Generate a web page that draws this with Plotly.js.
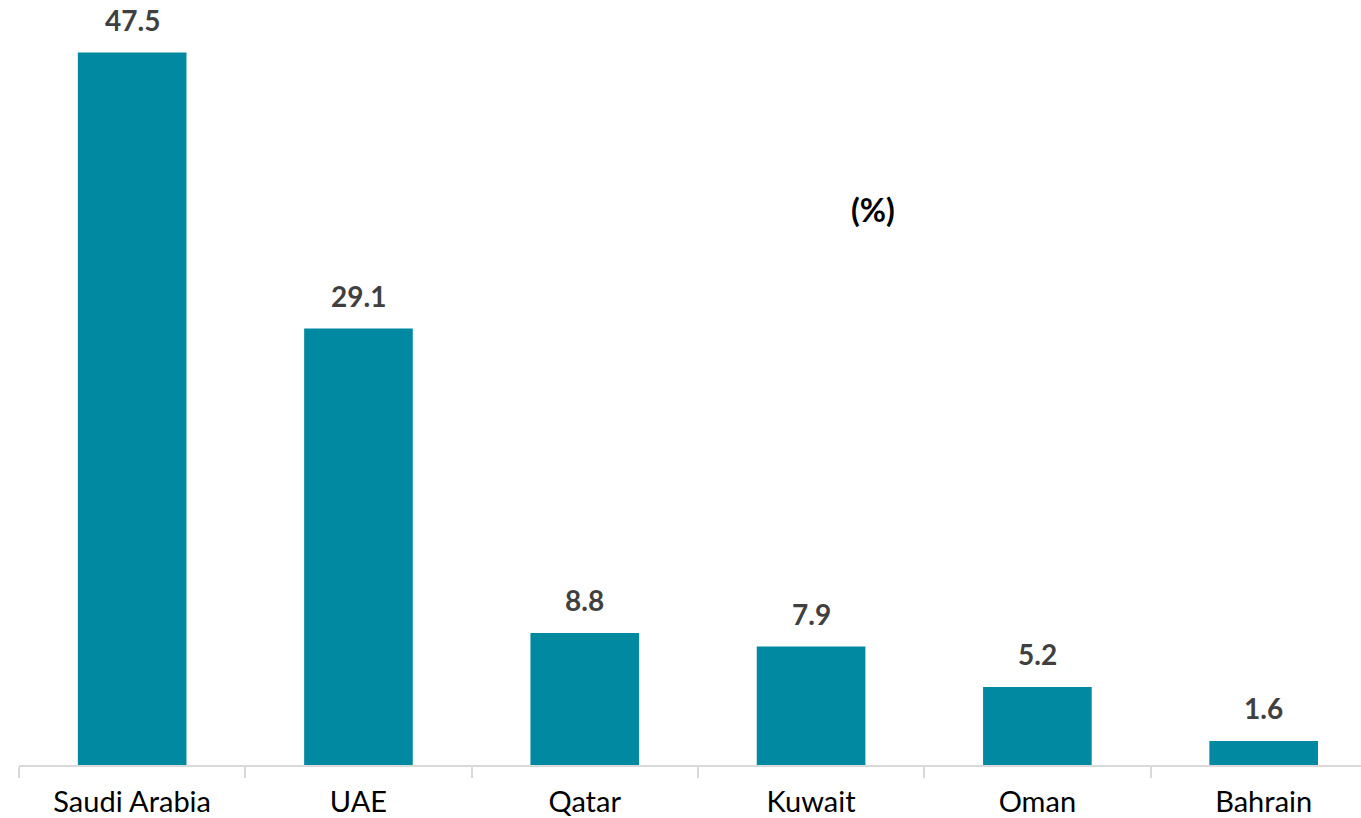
<!DOCTYPE html>
<html>
<head>
<meta charset="utf-8">
<script src="https://cdn.plot.ly/plotly-3.0.1.min.js"></script>
<style>html,body{margin:0;padding:0;background:#fff;}#chart{width:1361px;height:818px;}</style>
</head>
<body>
<div id="chart"></div>
<script>
const categories = ["Saudi Arabia", "UAE", "Qatar", "Kuwait", "Oman", "Bahrain"];
const values = [47.5, 29.1, 8.8, 7.9, 5.2, 1.6];
const unitLabel = "(%)";

const barColor = "#0189A2";
const fontFam = "Lato, 'Open Sans', sans-serif";

const trace = {
  type: "bar",
  x: categories,
  y: values,
  marker: {color: barColor},
  hoverinfo: "none"
};

const annotations = categories.map((c, i) => ({
  x: c, y: values[i], xref: "x", yref: "y",
  text: "<b>" + values[i].toFixed(1) + "</b>",
  showarrow: false, yanchor: "bottom", yshift: 14,
  font: {family: fontFam, size: 28, color: "#404040"}
}));
annotations.push({
  x: 0.636, y: 0.745, xref: "paper", yref: "paper",
  xanchor: "center", yanchor: "middle",
  text: "<b>" + unitLabel + "</b>", showarrow: false,
  font: {family: fontFam, size: 32, color: "#000000"}
});

const layout = {
  width: 1361, height: 818,
  margin: {l: 19, r: 0, t: 20, b: 53},
  paper_bgcolor: "#ffffff", plot_bgcolor: "#ffffff",
  bargap: 0.52,
  showlegend: false,
  xaxis: {
    type: "category",
    range: [-0.5, 5.43],
    showline: true, linecolor: "#d9d9d9", linewidth: 2,
    ticks: "outside", tickson: "boundaries", ticklen: 11, tickcolor: "#d9d9d9", tickwidth: 2,
    ticklabelstandoff: 10,
    tickfont: {family: fontFam, size: 29, color: "#000000"},
    showgrid: false, zeroline: false, fixedrange: true
  },
  yaxis: {
    range: [0, 49.67],
    visible: false, showgrid: false, zeroline: false, fixedrange: true
  },
  annotations: annotations
};

Plotly.newPlot("chart", [trace], layout, {displayModeBar: false, staticPlot: true});
</script>
</body>
</html>
